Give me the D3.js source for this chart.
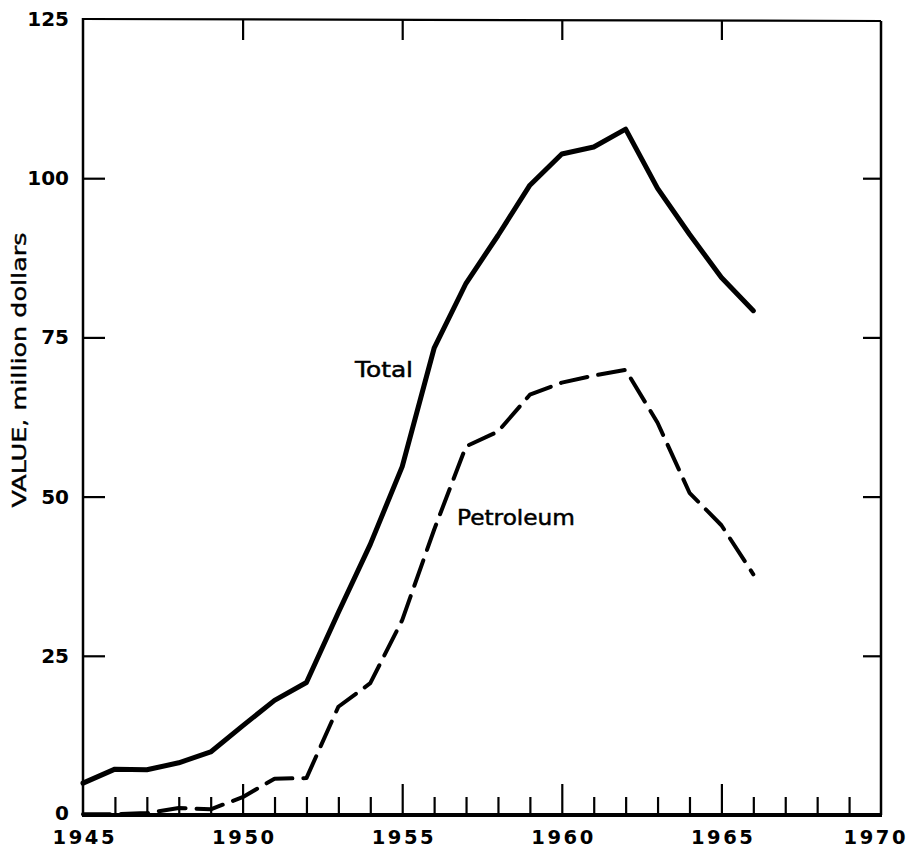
<!DOCTYPE html>
<html>
<head>
<meta charset="utf-8">
<script src="https://cdn.jsdelivr.net/npm/d3@7"></script>
<style>
  html, body { margin: 0; padding: 0; background: #fff; }
  svg { display: block; }
</style>
</head>
<body>
<svg id="chart" width="908" height="849"></svg>
<script>
// ---- Data ----
const years = [1945,1946,1947,1948,1949,1950,1951,1952,1953,1954,1955,1956,1957,1958,1959,1960,1961,1962,1963,1964,1965,1966];
const total = [5.0,7.2,7.1,8.2,9.9,14.0,18.0,20.8,31.8,42.5,54.7,73.3,83.5,91.0,98.9,103.8,104.9,107.7,98.4,91.2,84.4,79.2];
const petroleum = [0.1,0.1,0.3,1.1,0.9,2.8,5.7,5.8,17.0,20.7,30.6,44.8,57.9,60.2,66.0,67.9,69.0,69.9,61.6,50.6,45.5,37.8];
const xTickLabels = [1945,1950,1955,1960,1965,1970];
const yTickLabels = [0,25,50,75,100,125];
const seriesLabels = ["Total","Petroleum"];
const yTitle = "VALUE, million dollars";

// ---- Layout ----
const L = 83, R = 881, T = 19, B = 815;
const svg = d3.select("#chart");
const x = d3.scaleLinear().domain([1945,1970]).range([L,R]);
const y = d3.scaleLinear().domain([0,125]).range([B,T]);

const tickFont = "'DejaVu Sans', sans-serif";
const labelFont = "'DejaVu Sans', sans-serif";

// Frame
const frame = svg.append("g").attr("fill","none").attr("stroke","#000");
frame.append("line").attr("x1",L).attr("x2",L).attr("y1",T-1).attr("y2",B).attr("stroke-width",2.5);
frame.append("line").attr("x1",R).attr("x2",R).attr("y1",T+2).attr("y2",B).attr("stroke-width",2.5);
frame.append("path").attr("d",`M${L},${T}L${R},${T+2}`).attr("stroke-width",2.2);

// Bottom axis ticks
const allYears = d3.range(1945,1971);
const minorYears = allYears.filter(v => v % 5 !== 0);
const majorYears = allYears.filter(v => v % 5 === 0 && v !== 1945 && v !== 1970);

const gBottomMinor = svg.append("g").attr("transform",`translate(0,${B})`)
  .call(d3.axisBottom(x).tickValues(minorYears).tickSize(-18).tickFormat(""));
const gBottomMajor = svg.append("g").attr("transform",`translate(0,${B})`)
  .call(d3.axisBottom(x).tickValues(majorYears).tickSize(-31).tickFormat(""));
const gBottomLabels = svg.append("g").attr("transform",`translate(0,${B})`)
  .call(d3.axisBottom(x).tickValues(xTickLabels).tickSize(0).tickFormat(d3.format("d")));

// Top axis
const gTop = svg.append("g").attr("transform",`translate(0,${T+1})`)
  .call(d3.axisTop(x).tickValues(majorYears).tickSize(-20).tickFormat(""));

// Left axis
const gLeft = svg.append("g").attr("transform",`translate(${L},0)`)
  .call(d3.axisLeft(y).tickValues([25,50,75,100]).tickSize(-22).tickFormat(""));
const gLeftLabels = svg.append("g").attr("transform",`translate(${L},0)`)
  .call(d3.axisLeft(y).tickValues(yTickLabels).tickSize(0).tickPadding(14).tickFormat(d3.format("d")));

// Right axis
const gRight = svg.append("g").attr("transform",`translate(${R},0)`)
  .call(d3.axisRight(y).tickValues([25,50,75,100]).tickSize(-18).tickFormat(""));

[gBottomMinor,gBottomMajor,gBottomLabels,gTop,gLeft,gLeftLabels,gRight].forEach(g => {
  g.select(".domain").remove();
  g.selectAll(".tick line").attr("stroke","#000").attr("stroke-width",2.2);
});
[gBottomLabels,gLeftLabels].forEach(g => {
  g.selectAll(".tick text")
    .attr("fill","#000")
    .style("font-family",tickFont)
    .style("font-weight","bold")
    .style("font-size","20px");
});
gLeftLabels.selectAll(".tick text").attr("dy",d => d === 0 ? "0.22em" : "0.32em");
gBottomLabels.selectAll(".tick text")
  .style("font-size","19.5px")
  .attr("y",29).attr("dy",0)
  .attr("textLength",62).attr("lengthAdjust","spacing")
  .attr("dx",d => d === 1970 ? -7 : 0);

// Bottom axis line (thick)
svg.append("line").attr("x1",L-1).attr("x2",R+1).attr("y1",B).attr("y2",B)
  .attr("stroke","#000").attr("stroke-width",4);

// Lines
const line = d3.line().x((d,i) => x(years[i])).y(d => y(d));

svg.append("path").datum(total)
  .attr("d",line).attr("fill","none").attr("stroke","#000")
  .attr("stroke-width",5).attr("stroke-linejoin","round").attr("stroke-linecap","round");

svg.append("path").datum(petroleum)
  .attr("d",line).attr("fill","none").attr("stroke","#000")
  .attr("stroke-width",4).attr("stroke-linejoin","round").attr("stroke-linecap","round")
  .attr("stroke-dasharray","27,11");

// Series labels
svg.append("text").attr("x",355).attr("y",377).text(seriesLabels[0])
  .attr("textLength",58).attr("lengthAdjust","spacingAndGlyphs")
  .style("font-family",labelFont).style("font-size","21px").style("font-weight","normal")
  .style("stroke","#000").style("stroke-width","0.5").attr("fill","#000");
svg.append("text").attr("x",457).attr("y",525).text(seriesLabels[1])
  .attr("textLength",118).attr("lengthAdjust","spacingAndGlyphs")
  .style("font-family",labelFont).style("font-size","21px").style("font-weight","normal")
  .style("stroke","#000").style("stroke-width","0.5").attr("fill","#000");

// Y title
svg.append("text")
  .attr("transform","translate(26,370) rotate(-90)")
  .attr("text-anchor","middle")
  .attr("textLength",275).attr("lengthAdjust","spacingAndGlyphs")
  .style("font-family",labelFont).style("font-size","20px").attr("fill","#000")
  .style("stroke","#000").style("stroke-width","0.4")
  .text(yTitle);
</script>
</body>
</html>
